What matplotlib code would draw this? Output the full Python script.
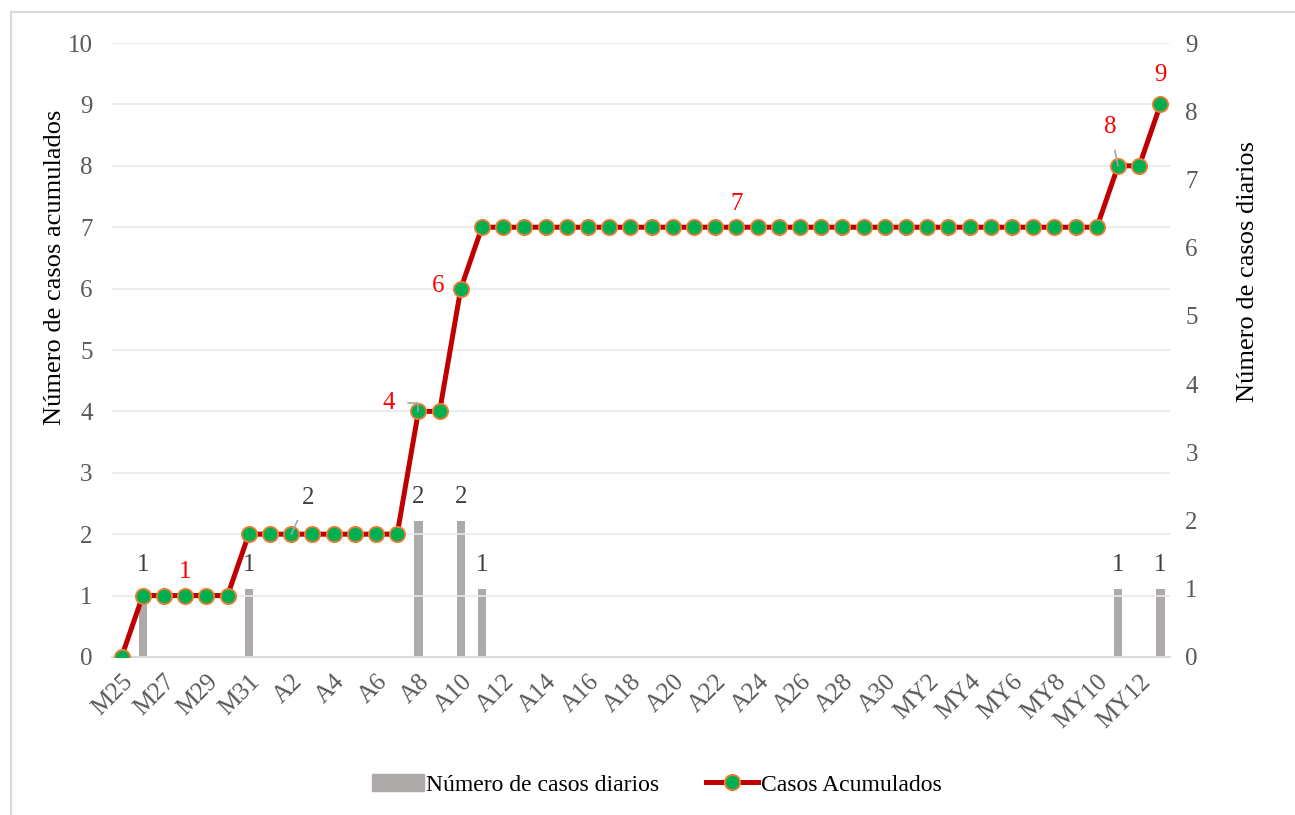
import matplotlib
matplotlib.use("Agg")
from matplotlib import pyplot as plt
from matplotlib.patches import Rectangle, Patch
from matplotlib.lines import Line2D

plt.rcParams['font.family'] = ['Liberation Serif', 'DejaVu Serif']

# days from 25 March to 13 May
fechas = (["M%d" % d for d in range(25, 32)]
          + ["A%d" % d for d in range(1, 31)]
          + ["MY%d" % d for d in range(1, 14)])

# daily cases (only non-zero days listed)
casos_dias = {"M26": 1, "M31": 1, "A8": 2, "A10": 2, "A11": 1, "MY11": 1, "MY13": 1}
diarios = [casos_dias.get(f, 0) for f in fechas]

acumulados = [0, 1, 1, 1, 1, 1, 2, 2, 2, 2, 2, 2, 2, 2, 4, 4, 6, 7,
              7, 7, 7, 7, 7, 7, 7, 7, 7, 7, 7, 7, 7, 7, 7, 7, 7, 7,
              7, 7, 7, 7, 7, 7, 7, 7, 7, 7, 7, 8, 8, 9]

# labels shown on the cumulative line: (date, offset in points, colour, leader)
etiquetas_linea = [("M28", (0, 17), "red", None),
                   ("A2", (12, 26), "#404040", "arc3"),
                   ("A8", (-21, 6), "red", "angle,angleA=0,angleB=90,rad=0"),
                   ("A10", (-16.5, 2), "red", None),
                   ("A23", (0, 17), "red", None),
                   ("MY11", (-6, 28), "red", "arc3"),
                   ("MY13", (0, 21), "red", None)]

gris_txt = "#595959"
fs = 18
x = list(range(len(fechas)))

fig = plt.figure(figsize=(12.95, 8.15), dpi=100)
ax = fig.add_axes([0.0865, 0.1939, 0.817, 0.7533])
ax2 = ax.twinx()

# bars: daily cases on the right axis
ax2.bar(x, diarios, width=0.4, color="#AEAAAA", zorder=2)
for i, v in enumerate(diarios):
    if v > 0:
        ax2.annotate(str(v), (i, v), xytext=(0, 17), textcoords="offset points",
                     ha="center", va="center", fontsize=fs, color="#404040")

# cumulative line on the left axis
ax.plot(x, acumulados, color="#C00000", lw=3.6, marker="o", ms=11,
        mfc="#00B050", mec="#ED7D31", mew=1.3, zorder=3)
for fecha, off, col, leader in etiquetas_linea:
    i = fechas.index(fecha)
    props = None
    if leader:
        props = dict(arrowstyle="-", color="#A6A6A6", lw=1.2, shrinkA=7, shrinkB=0,
                     connectionstyle=leader)
    ax.annotate(str(acumulados[i]), (i, acumulados[i]), xytext=off,
                textcoords="offset points", ha="center", va="center",
                fontsize=fs, color=col, zorder=5, arrowprops=props)

ax.set_zorder(ax2.get_zorder() + 1)
ax.patch.set_visible(False)

ax.set_xlim(-0.45, len(fechas) - 0.55)
ax.set_ylim(0, 10)
ax2.set_ylim(0, 9)
ax.set_yticks(range(0, 11))
ax2.set_yticks(range(0, 10))
ax.set_xticks(x[::2])
ax.set_xticklabels(fechas[::2], rotation=45, ha="right", rotation_mode="anchor")

ax2.yaxis.grid(False)
ax.yaxis.grid(True, color="#EAE6F0", lw=1.2)
ax.set_axisbelow(True)

for a in (ax, ax2):
    for s in a.spines.values():
        s.set_visible(False)
    a.tick_params(length=0, labelsize=fs, labelcolor=gris_txt)
ax.spines["bottom"].set_visible(True)
ax.spines["bottom"].set_color("#D9D9D9")
ax.spines["bottom"].set_linewidth(1.5)
ax.tick_params(axis="y", pad=14)
ax2.tick_params(axis="y", pad=11)
ax.tick_params(axis="x", pad=10)

ax.set_ylabel("Número de casos acumulados", fontsize=19, color="black", va="center")
ax2.set_ylabel("Número de casos diarios", fontsize=19, color="black", va="center")
ax.yaxis.set_label_coords(-0.054, 0.635)
ax2.yaxis.set_label_coords(1.074, 0.628)

handles = [Patch(color="#AEAAAA"),
           Line2D([], [], color="#C00000", lw=3.6, marker="o", ms=11,
                  mfc="#00B050", mec="#ED7D31", mew=1.3)]
fig.legend(handles, ["Número de casos diarios", "Casos Acumulados"],
           loc="center", bbox_to_anchor=(0.507, 0.037), ncol=2, frameon=False,
           fontsize=17, handlelength=2.2, columnspacing=2.0, handletextpad=0.1)

# chart border
fig.patches.append(Rectangle((0.0085, -0.05), 1.2, 1.035, transform=fig.transFigure,
                             fill=False, edgecolor="#D9D9D9", lw=1.5))

fig.savefig("out.png", dpi=100)
